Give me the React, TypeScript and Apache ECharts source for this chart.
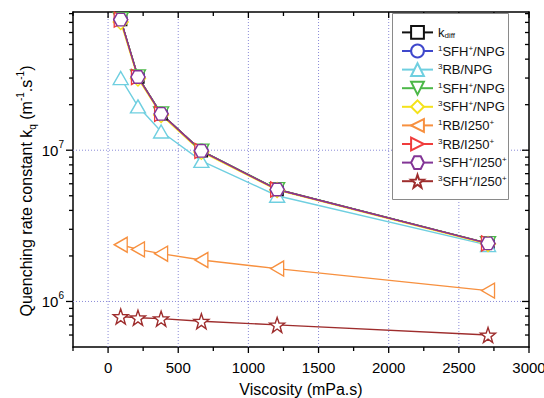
import React, { useEffect, useRef } from 'react';
import * as echarts from 'echarts';

// ---------- data ----------
const viscosity = [90, 213, 378, 665, 1205, 2708];
const kDiff = [7.3e7, 3.05e7, 1.74e7, 9.9e6, 5.5e6, 2.42e6];
const sfh1Npg = [7.3e7, 3.05e7, 1.74e7, 9.9e6, 5.5e6, 2.42e6];
const rb3Npg = [3.0e7, 1.95e7, 1.33e7, 8.5e6, 5.0e6, 2.36e6];
const sfh1NpgB = [7.36e7, 3.08e7, 1.75e7, 9.95e6, 5.53e6, 2.43e6];
const sfh3Npg = [7.05e7, 2.98e7, 1.71e7, 9.75e6, 5.45e6, 2.4e6];
const rb1I250 = [2.37e6, 2.21e6, 2.07e6, 1.88e6, 1.65e6, 1.18e6];
const rb3I250 = [7.3e7, 3.05e7, 1.74e7, 9.9e6, 5.5e6, 2.42e6];
const sfh1I250 = [7.3e7, 3.05e7, 1.74e7, 9.9e6, 5.5e6, 2.42e6];
const sfh3I250 = [7.95e5, 7.8e5, 7.7e5, 7.4e5, 7.0e5, 6.0e5];

const seriesKeys = ['kdiff', '1SFH+/NPG', '3RB/NPG', '1SFH+/NPG (b)', '3SFH+/NPG', '1RB/I250+', '3RB/I250+', '1SFH+/I250+', '3SFH+/I250+'];
const seriesLabels = [
  'k{sub|diff}',
  '{sup|1}SFH{sup|+}/NPG',
  '{sup|3}RB/NPG',
  '{sup|1}SFH{sup|+}/NPG',
  '{sup|3}SFH{sup|+}/NPG',
  '{sup|1}RB/I250{sup|+}',
  '{sup|3}RB/I250{sup|+}',
  '{sup|1}SFH{sup|+}/I250{sup|+}',
  '{sup|3}SFH{sup|+}/I250{sup|+}',
];
const seriesValues = [kDiff, sfh1Npg, rb3Npg, sfh1NpgB, sfh3Npg, rb1I250, rb3I250, sfh1I250, sfh3I250];

// axes
const X_MIN = -250;
const X_MAX = 3000;
const X_INTERVAL = 250;
const Y_MIN = 5e5;
const Y_MAX = 8.2e7;
const xTickValues = [-250, 0, 250, 500, 750, 1000, 1250, 1500, 1750, 2000, 2250, 2500, 2750, 3000];
const xMajorTicks = [0, 500, 1000, 1500, 2000, 2500, 3000];
const xGridValues = [0, 500, 1000, 1500, 2000, 2500];
const yMajorTicks = [1e6, 1e7];
const yMinorTicks = [6e5, 7e5, 8e5, 9e5, 2e6, 3e6, 4e6, 5e6, 6e6, 7e6, 8e6, 9e6, 2e7, 3e7, 4e7, 5e7, 6e7, 7e7, 8e7];
const yGridValues = [1e6, 1e7];

// ---------- styles ----------
const FONT = '"Liberation Sans", Arial, Helvetica, sans-serif';
const colors = ['#111111', '#3f48cc', '#6fcfe0', '#4cb848', '#f4e21a', '#f7903f', '#f03c3c', '#823596', '#9e2d2d'];
const HEX = 'path://M0,50 L25,6.7 L75,6.7 L100,50 L75,93.3 L25,93.3 Z';
const STAR = 'path://M50,0 L61.76,33.82 L97.55,34.55 L69.02,56.18 L79.39,90.45 L50,70 L20.61,90.45 L30.98,56.18 L2.45,34.55 L38.24,33.82 Z';
const TRI_DOWN = 'path://M0,0 L100,0 L50,87 Z';
const TRI_LEFT = 'path://M0,50 L87,0 L87,100 Z';
const TRI_RIGHT = 'path://M0,0 L87,50 L0,100 Z';
const symbols = ['rect', 'circle', 'triangle', TRI_DOWN, 'diamond', TRI_LEFT, TRI_RIGHT, HEX, STAR];
const symbolSizes: any[] = [12, 13, [15, 13], [15, 13], 15, [13, 15], [13, 15], [14, 12.5], 15];

export default function App() {
  const ref = useRef<HTMLDivElement>(null);

  useEffect(() => {
    document.body.style.margin = '0';
    if (!ref.current) return;
    const chart = echarts.init(ref.current, undefined, { renderer: 'svg' });

    const dataSeries = seriesKeys.map((key, i) => ({
      name: key,
      type: 'line',
      data: viscosity.map((x, j) => [x, seriesValues[i][j]]),
      symbol: symbols[i],
      symbolSize: symbolSizes[i],
      symbolKeepAspect: false,
      showAllSymbol: true,
      lineStyle: { color: colors[i], width: 1.4 },
      itemStyle: { color: '#ffffff', borderColor: colors[i], borderWidth: 1.4 },
      z: 3,
      silent: true,
    }));

    const tickStyle = { stroke: '#000', lineWidth: 1.3 };
    const gridStyle = { stroke: '#8b8bd8', lineWidth: 1, lineDash: [1, 2] };

    const yTickData = [
      ...yMajorTicks.map((v) => [X_MIN, v, 1]),
      ...yMinorTicks.map((v) => [X_MIN, v, 0]),
    ];
    const xTickData = xTickValues.map((v) => [v, Y_MIN, xMajorTicks.includes(v) ? 1 : 0]);

    const axisLine = { show: true, onZero: false, lineStyle: { color: '#000', width: 1.5 } };

    const option: any = {
      animation: false,
      grid: { left: 73, top: 12, right: 15, bottom: 51, containLabel: false, outerBoundsMode: 'none' },
      xAxis: [
        {
          type: 'value',
          min: X_MIN,
          max: X_MAX,
          interval: X_INTERVAL,
          position: 'bottom',
          name: 'Viscosity (mPa.s)',
          nameLocation: 'middle',
          nameGap: 34,
          nameTextStyle: { fontSize: 16, color: '#000', fontFamily: FONT },
          axisLine,
          axisTick: { show: false },
          splitLine: { show: false },
          axisLabel: {
            margin: 13,
            fontSize: 15,
            color: '#000',
            fontFamily: FONT,
            formatter: (v: number) => (v >= 0 && v % 500 === 0 ? String(v) : ''),
          },
        },
        {
          type: 'value',
          min: X_MIN,
          max: X_MAX,
          interval: X_INTERVAL,
          position: 'top',
          axisLine,
          axisTick: { show: false },
          splitLine: { show: false },
          axisLabel: { show: false },
        },
      ],
      yAxis: [
        {
          type: 'log',
          logBase: 10,
          min: Y_MIN,
          max: Y_MAX,
          position: 'left',
          axisLine,
          axisTick: { show: false },
          splitLine: { show: false },
          minorTick: { show: false },
          axisLabel: {
            margin: 9,
            fontSize: 15,
            lineHeight: 22,
            color: '#000',
            fontFamily: FONT,
            formatter: (v: number) => {
              const e = Math.log10(v);
              const r = Math.round(e);
              if (Math.abs(e - r) > 1e-6) return '';
              return '10{sup|' + r + '}';
            },
            rich: {
              sup: { fontSize: 10, lineHeight: 10, verticalAlign: 'top', fontFamily: FONT, color: '#000' },
            },
          },
        },
        {
          type: 'log',
          logBase: 10,
          min: Y_MIN,
          max: Y_MAX,
          position: 'right',
          axisLine,
          axisTick: { show: false },
          splitLine: { show: false },
          axisLabel: { show: false },
        },
      ],
      legend: {
        data: seriesKeys,
        orient: 'vertical',
        left: 392,
        top: 13,
        z: 8,
        itemWidth: 31,
        itemHeight: 16,
        itemGap: 3.8,
        padding: [12, 4, 0, 9],
        borderWidth: 0,
        backgroundColor: 'transparent',
        selectedMode: false,
        formatter: (name: string) => seriesLabels[seriesKeys.indexOf(name)],
        textStyle: {
          fontSize: 13,
          lineHeight: 14,
          color: '#111',
          fontFamily: FONT,
          rich: {
            sup: { fontSize: 8, lineHeight: 8, verticalAlign: 'top', fontFamily: FONT, color: '#111' },
            sub: { fontSize: 8, lineHeight: 8, verticalAlign: 'bottom', fontFamily: FONT, color: '#111' },
          },
        },
      },
      graphic: [
        {
          type: 'rect',
          z: 7,
          silent: true,
          shape: { x: 392.5, y: 13.5, width: 116, height: 186 },
          style: { fill: '#ffffff', stroke: '#8a8a8a', lineWidth: 1 },
        },
        {
          type: 'text',
          x: 26,
          y: 191,
          rotation: Math.PI / 2,
          style: {
            text: 'Quenching rate constant k{sub|q} (m{sup|-1}.s{sup|-1})',
            fontSize: 16,
            lineHeight: 22,
            fontFamily: FONT,
            fill: '#000',
            align: 'center',
            verticalAlign: 'middle',
            rich: {
              sup: { fontSize: 10, lineHeight: 10, verticalAlign: 'top', fontFamily: FONT, fill: '#000' },
              sub: { fontSize: 10, lineHeight: 10, verticalAlign: 'bottom', fontFamily: FONT, fill: '#000' },
            },
          },
        },
      ],
      series: [
        {
          type: 'custom',
          name: 'vgrid',
          silent: true,
          clip: false,
          z: 1,
          data: xGridValues.map((v) => [v, Y_MIN]),
          renderItem: (_p: any, api: any) => {
            const v = api.value(0);
            const a = api.coord([v, Y_MIN]);
            const b = api.coord([v, Y_MAX]);
            return { type: 'line', shape: { x1: a[0], y1: a[1], x2: b[0], y2: b[1] }, style: gridStyle };
          },
        },
        {
          type: 'custom',
          name: 'hgrid',
          silent: true,
          clip: false,
          z: 1,
          data: yGridValues.map((v) => [X_MIN, v]),
          renderItem: (_p: any, api: any) => {
            const v = api.value(1);
            const a = api.coord([X_MIN, v]);
            const b = api.coord([X_MAX, v]);
            return { type: 'line', shape: { x1: a[0], y1: a[1], x2: b[0], y2: b[1] }, style: gridStyle };
          },
        },
        ...dataSeries,
        {
          type: 'custom',
          name: 'yticks',
          silent: true,
          clip: false,
          z: 5,
          data: yTickData,
          renderItem: (_p: any, api: any) => {
            const v = api.value(1);
            const len = api.value(2) ? 7 : 4;
            const l = api.coord([X_MIN, v]);
            const r = api.coord([X_MAX, v]);
            return {
              type: 'group',
              children: [
                { type: 'line', shape: { x1: l[0] - len, y1: l[1], x2: l[0], y2: l[1] }, style: tickStyle },
                { type: 'line', shape: { x1: r[0] - len, y1: r[1], x2: r[0], y2: r[1] }, style: tickStyle },
              ],
            };
          },
        },
        {
          type: 'custom',
          name: 'xticks',
          silent: true,
          clip: false,
          z: 5,
          data: xTickData,
          renderItem: (_p: any, api: any) => {
            const v = api.value(0);
            const len = api.value(2) ? 6 : 4;
            const b = api.coord([v, Y_MIN]);
            const t = api.coord([v, Y_MAX]);
            return {
              type: 'group',
              children: [
                { type: 'line', shape: { x1: b[0], y1: b[1], x2: b[0], y2: b[1] + len }, style: tickStyle },
                { type: 'line', shape: { x1: t[0], y1: t[1], x2: t[0], y2: t[1] + len }, style: tickStyle },
              ],
            };
          },
        },
      ],
    };

    chart.setOption(option);
    return () => chart.dispose();
  }, []);

  return <div ref={ref} style={{ width: 544, height: 398 }} />;
}
